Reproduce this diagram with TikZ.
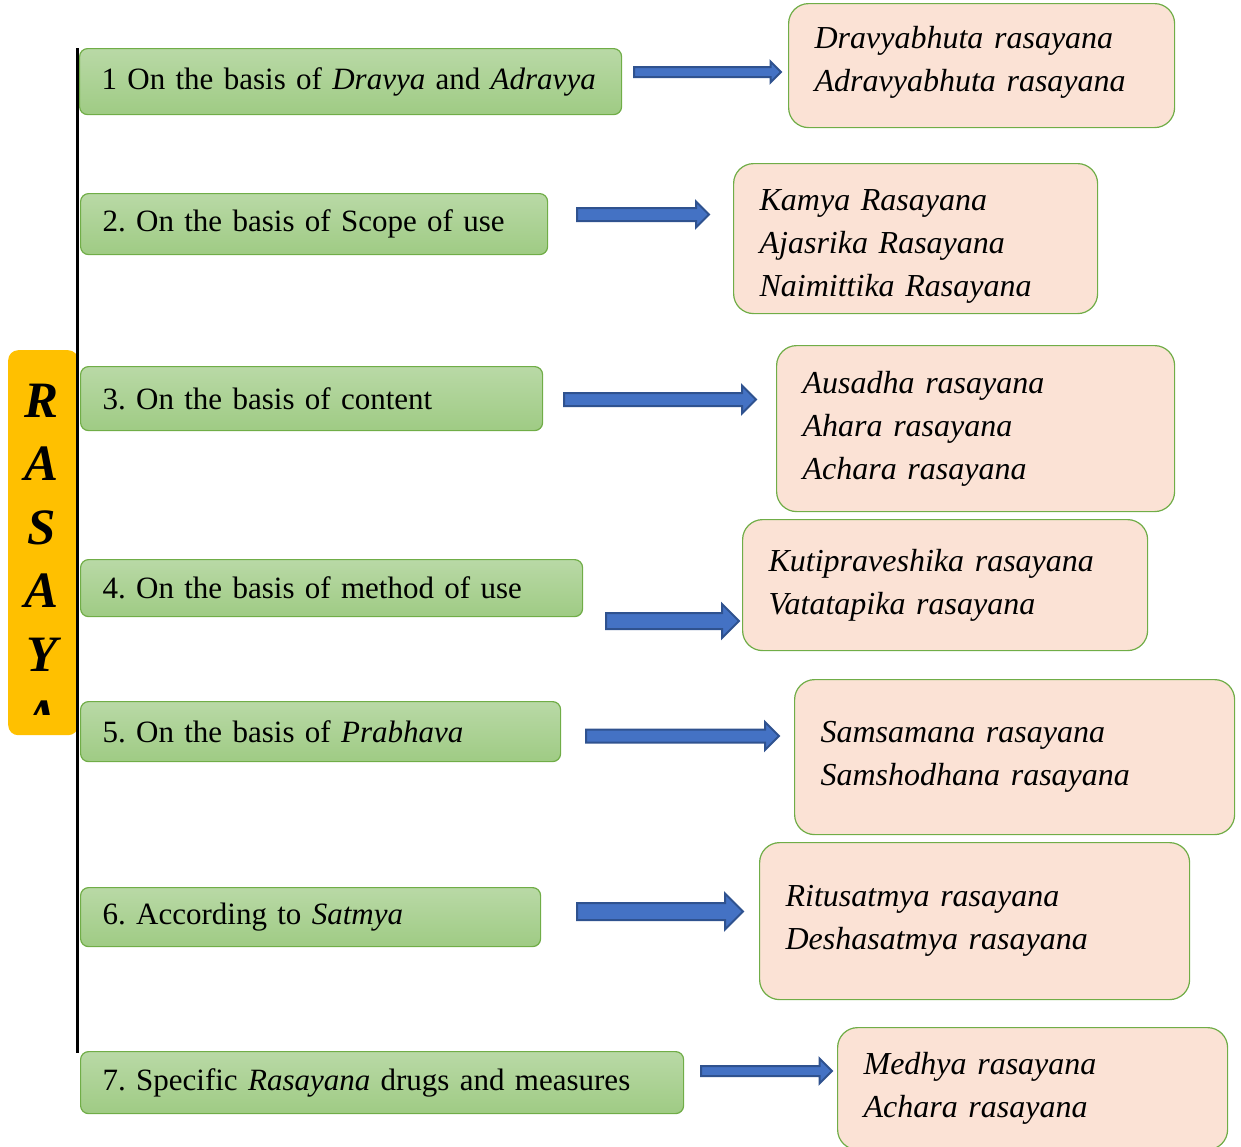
\documentclass[tikz,border=0pt]{standalone}
\usepackage{fontspec}
\setmainfont{Liberation Serif}
\usetikzlibrary{shapes.arrows}
\definecolor{pinkfill}{HTML}{FBE2D5}
\definecolor{boxline}{HTML}{70AD47}
\definecolor{greentop}{HTML}{B9D9A6}
\definecolor{greenbot}{HTML}{9FCB84}
\definecolor{arrowblue}{HTML}{4472C4}
\definecolor{arrowline}{HTML}{2F528F}
\definecolor{rasayellow}{HTML}{FFC000}

\begin{document}
\begin{tikzpicture}[x=1pt, y=-1pt,
	gb/.style={draw=boxline, line width=1.2pt, rounded corners=8pt, top color=greentop, bottom color=greenbot, anchor=north west, align=left, inner xsep=22pt, inner ysep=0pt, font=\frenchspacing\fontsize{31}{43}\selectfont},
	pb/.style={draw=boxline, line width=1.2pt, rounded corners=20pt, fill=pinkfill, anchor=north west, align=left, inner xsep=26pt, inner ysep=0pt, font=\fontsize{32}{43}\selectfont\itshape},
	ar/.style={single arrow, draw=arrowline, fill=arrowblue, line width=2pt, inner xsep=0pt, single arrow head indent=0pt, anchor=tail},
	yb/.style={fill=rasayellow, rounded corners=10pt, anchor=north west, inner sep=0pt},
	lt/.style={anchor=base, inner sep=0pt, font=\fontsize{51}{63}\selectfont\bfseries\itshape}]
	\useasboundingbox (0,0) rectangle (1241,1146);
	\clip (0,0) rectangle (1241,1146);

	% RASAYA box
	\node[yb, minimum width=70, minimum height=385] (rasa) at (8,350) {};
	\begin{scope}
		\clip (8,350) rectangle (78,714);
		\foreach \ch [count=\i] in {R,A,S,A,Y,A}
			\node[lt] (r\i) at (42,{417+63.5*(\i-1)}) {\ch};
	\end{scope}

	% left column
	\node[gb, minimum width=542, minimum height=66, text width=498] (g1) at (79,48) {1 On the basis of \textit{Dravya} and \textit{Adravya}};
	\node[gb, minimum width=467, minimum height=61, text width=423] (g2) at (80,193) {2. On the basis of Scope of use};
	\node[gb, minimum width=462, minimum height=64, text width=418] (g3) at (80,366) {3. On the basis of content};
	\node[gb, minimum width=502, minimum height=57, text width=458] (g4) at (80,559) {4. On the basis of method of use};
	\node[gb, minimum width=480, minimum height=60, text width=436] (g5) at (80,701) {5. On the basis of \textit{Prabhava}};
	\node[gb, minimum width=460, minimum height=59, text width=416] (g6) at (80,887) {6. According to \textit{Satmya}};
	\node[gb, minimum width=603, minimum height=62, text width=559] (g7) at (80,1051) {7. Specific \textit{Rasayana} drugs and measures};

	\coordinate (top) at (77.5,48);
	\coordinate (bot) at (77.5,1053);
	\draw[line width=3pt] (top) -- (bot);

	% arrows
	\node[ar, minimum height=147, inner ysep=4, single arrow head extend=5.5] (a1) at (633,72) {};
	\node[ar, minimum height=132, inner ysep=5.5, single arrow head extend=6.5] (a2) at (576,214.5) {};
	\node[ar, minimum height=192, inner ysep=5.5, single arrow head extend=7.5] (a3) at (563,399.5) {};
	\node[ar, minimum height=133, inner ysep=7, single arrow head extend=9] (a4) at (605,621) {};
	\node[ar, minimum height=193, inner ysep=5.5, single arrow head extend=7.5] (a5) at (585,736) {};
	\node[ar, minimum height=166, inner ysep=7.5, single arrow head extend=9.5] (a6) at (576,911.5) {};
	\node[ar, minimum height=131, inner ysep=4, single arrow head extend=7.5] (a7) at (700,1071) {};

	% right column
	\node[pb, minimum width=386, minimum height=124, text width=334] (p1) at (788,3) {Dravyabhuta rasayana\\Adravyabhuta rasayana\rule[-13pt]{0pt}{13pt}};
	\node[pb, minimum width=364, minimum height=150, text width=312] (p2) at (733,163) {\rule{0pt}{36pt}Kamya Rasayana\\Ajasrika Rasayana\\Naimittika Rasayana};
	\node[pb, minimum width=398, minimum height=166, text width=346] (p3) at (776,345) {Ausadha rasayana\\Ahara rasayana\\Achara rasayana};
	\node[pb, minimum width=405, minimum height=131, text width=353] (p4) at (742,519) {Kutipraveshika rasayana\\Vatatapika rasayana};
	\node[pb, minimum width=440, minimum height=155, text width=388] (p5) at (794,679) {Samsamana rasayana\\Samshodhana rasayana};
	\node[pb, minimum width=430, minimum height=157, text width=378] (p6) at (759,842) {Ritusatmya rasayana\\Deshasatmya rasayana};
	\node[pb, minimum width=390, minimum height=122, text width=338] (p7) at (837,1027) {Medhya rasayana\\Achara rasayana};
\end{tikzpicture}
\end{document}
